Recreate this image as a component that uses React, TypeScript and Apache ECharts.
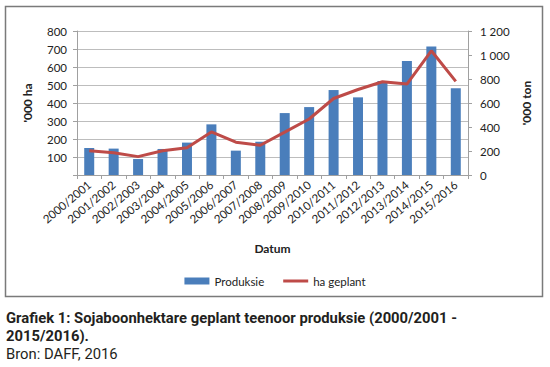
import React, { useEffect, useRef } from "react";
import * as echarts from "echarts";

const categories = [
  "2000/2001", "2001/2002", "2002/2003", "2003/2004", "2004/2005", "2005/2006",
  "2006/2007", "2007/2008", "2008/2009", "2009/2010", "2010/2011", "2011/2012",
  "2012/2013", "2013/2014", "2014/2015", "2015/2016",
];
const produksie = [225, 220, 133, 217, 270, 422, 203, 278, 516, 566, 708, 647, 783, 950, 1070, 722];
const haGeplant = [135, 124, 102, 135, 152, 239, 182, 165, 238, 311, 425, 475, 518, 505, 690, 520];

const leftTicks = { min: 0, max: 800, interval: 100 };
const rightTicks = { min: 0, max: 1200, interval: 200 };

const captionLines = [
  "Grafiek 1: Sojaboonhektare geplant teenoor produksie (2000/2001 -",
  "2015/2016).",
];
const sourceLine = "Bron: DAFF, 2016";

const FONT = "Lato, 'Open Sans', sans-serif";
const CAP_FONT = "Roboto, sans-serif";

export default function App() {
  const ref = useRef<HTMLDivElement>(null);
  useEffect(() => {
    if (!ref.current) return;
    const chart = echarts.init(ref.current, null, { renderer: "svg" });
    chart.setOption({
      animation: false,
      textStyle: { fontFamily: FONT },
      grid: { left: 77, right: 82, top: 31, bottom: 192, containLabel: false },
      legend: {
        top: 270,
        left: "center",
        itemWidth: 25,
        itemHeight: 7,
        itemGap: 19,
        textStyle: { fontFamily: FONT, fontSize: 11.5, color: "#222" },
        data: [
          { name: "Produksie", icon: "rect" },
          { name: "ha geplant", icon: "path://M0,0h25v3h-25z" },
        ],
      },
      xAxis: {
        type: "category",
        data: categories,
        boundaryGap: true,
        name: "Datum",
        nameLocation: "middle",
        nameGap: 67,
        nameTextStyle: { fontFamily: FONT, fontWeight: "bold", fontSize: 12, color: "#222" },
        axisLine: { lineStyle: { color: "#a0a0a0" } },
        axisTick: { show: true, length: 4, lineStyle: { color: "#a0a0a0" } },
        axisLabel: { rotate: 40, fontSize: 11.5, color: "#222", margin: 8, interval: 0, fontFamily: FONT },
      },
      yAxis: [
        {
          type: "value",
          position: "left",
          ...leftTicks,
          name: "'000 ha",
          nameLocation: "middle",
          nameGap: 44,
          nameRotate: 90,
          nameTextStyle: { fontFamily: FONT, fontWeight: "bold", fontSize: 12, color: "#222" },
          axisLine: { show: true, lineStyle: { color: "#a0a0a0" } },
          axisTick: { show: true, length: 4, lineStyle: { color: "#a0a0a0" } },
          axisLabel: {
            fontSize: 11.5,
            color: "#222",
            margin: 10,
            fontFamily: FONT,
            formatter: (v: number) => (v === 0 ? "" : String(v)),
          },
          splitLine: { show: true, lineStyle: { color: "#bdbdbd", width: 1 } },
        },
        {
          type: "value",
          position: "right",
          ...rightTicks,
          name: "'000 ton",
          nameLocation: "middle",
          nameGap: 52,
          nameRotate: 90,
          nameTextStyle: { fontFamily: FONT, fontWeight: "bold", fontSize: 12, color: "#222" },
          axisLine: { show: true, lineStyle: { color: "#a0a0a0" } },
          axisTick: { show: true, length: 4, lineStyle: { color: "#a0a0a0" } },
          axisLabel: {
            fontSize: 11.5,
            color: "#222",
            margin: 12,
            fontFamily: FONT,
            formatter: (v: number) => String(v).replace(/\B(?=(\d{3})+(?!\d))/g, " "),
          },
          splitLine: { show: false },
        },
      ],
      series: [
        {
          name: "Produksie",
          type: "bar",
          yAxisIndex: 1,
          data: produksie,
          barWidth: 10,
          itemStyle: { color: "#4a7ebb" },
        },
        {
          name: "ha geplant",
          type: "line",
          yAxisIndex: 0,
          data: haGeplant,
          symbol: "none",
          lineStyle: { color: "#be4b48", width: 3 },
          itemStyle: { color: "#be4b48" },
        },
      ],
      graphic: [
        {
          type: "rect",
          shape: { x: 5.5, y: 6.5, width: 537, height: 290 },
          style: { fill: "none", stroke: "#7a7a7a", lineWidth: 1.5 },
          silent: true,
        },
        {
          type: "text",
          x: 6,
          y: 318,
          style: {
            text: captionLines[0],
            fontFamily: CAP_FONT,
            fontWeight: "bold",
            fontSize: 14.8,
            verticalAlign: "middle",
            fill: "#231f20",
          },
        },
        {
          type: "text",
          x: 6,
          y: 335.5,
          style: {
            text: captionLines[1],
            fontFamily: CAP_FONT,
            fontWeight: "bold",
            fontSize: 14.8,
            verticalAlign: "middle",
            fill: "#231f20",
          },
        },
        {
          type: "text",
          x: 6,
          y: 354,
          style: {
            text: sourceLine,
            fontFamily: CAP_FONT,
            fontSize: 14.8,
            verticalAlign: "middle",
            fill: "#231f20",
          },
        },
      ],
    });
    return () => chart.dispose();
  }, []);
  return (
    <div
      ref={ref}
      style={{ position: "absolute", left: 0, top: 0, width: 550, height: 367, background: "#fff" }}
    />
  );
}
